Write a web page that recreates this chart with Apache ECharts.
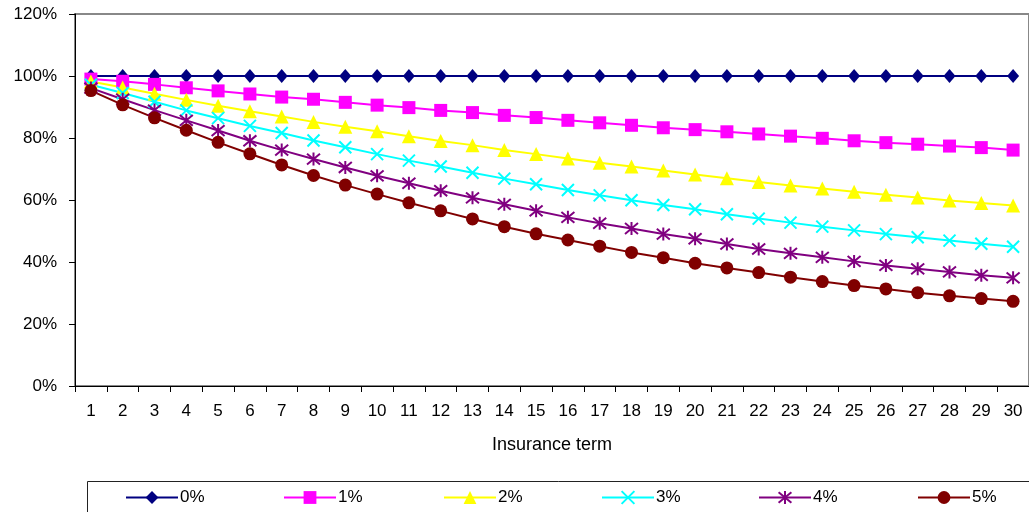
<!DOCTYPE html>
<html>
<head>
<meta charset="utf-8">
<script src="https://cdn.jsdelivr.net/npm/echarts@6/dist/echarts.min.js"></script>
<style>
  html, body { margin: 0; padding: 0; background: #fff; }
  #chart { width: 1029px; height: 512px; }
</style>
</head>
<body>
<div id="chart"></div>
<script>
// Insurance term (years)
const terms = ['1','2','3','4','5','6','7','8','9','10','11','12','13','14','15',
               '16','17','18','19','20','21','22','23','24','25','26','27','28','29','30'];

const yTicks = [0, 20, 40, 60, 80, 100, 120];

const seriesNames = ['0%', '1%', '2%', '3%', '4%', '5%'];

// Remaining value (%) per term, by rate
const rate0 = [100,100,100,100,100,100,100,100,100,100,100,100,100,100,100,
               100,100,100,100,100,100,100,100,100,100,100,100,100,100,100];
const rate1 = [99.0, 98.3, 97.3, 96.2, 95.2, 94.2, 93.2, 92.5, 91.5, 90.6,
               89.8, 88.9, 88.2, 87.3, 86.6, 85.7, 84.9, 84.1, 83.3, 82.7,
               82.0, 81.3, 80.6, 79.9, 79.1, 78.5, 78.0, 77.4, 76.9, 76.1];
const rate2 = [98.2, 96.3, 94.3, 92.3, 90.4, 88.6, 86.9, 85.2, 83.6, 82.2,
               80.6, 79.0, 77.7, 76.1, 74.8, 73.4, 72.0, 70.8, 69.5, 68.2,
               67.0, 65.8, 64.7, 63.7, 62.7, 61.7, 60.8, 59.8, 59.0, 58.2];
const rate3 = [97.2, 94.5, 91.7, 88.9, 86.4, 83.9, 81.6, 79.2, 77.0, 74.8,
               72.7, 70.8, 68.8, 66.9, 65.1, 63.2, 61.5, 59.9, 58.4, 57.0,
               55.4, 54.0, 52.7, 51.4, 50.2, 49.0, 48.0, 46.9, 45.9, 44.9];
const rate4 = [96.1, 92.5, 89.0, 85.7, 82.4, 79.1, 76.1, 73.2, 70.5, 67.8,
               65.4, 63.0, 60.7, 58.6, 56.5, 54.4, 52.5, 50.8, 49.0, 47.5,
               45.8, 44.2, 42.8, 41.5, 40.2, 38.9, 37.8, 36.8, 35.7, 34.9];
const rate5 = [95.3, 90.7, 86.5, 82.5, 78.6, 74.9, 71.3, 67.9, 64.8, 61.9,
               59.1, 56.5, 53.9, 51.4, 49.1, 47.1, 45.1, 43.1, 41.4, 39.6,
               38.1, 36.6, 35.1, 33.7, 32.4, 31.3, 30.1, 29.1, 28.2, 27.3];

const FONT = '"Liberation Sans", Arial, sans-serif';

const crossPath = 'path://M0,0L10,10M10,0L0,10';
const starPath = 'path://M0,0L10,10M10,0L0,10M5,-1L5,11';

const styles = [
  { color: '#000080', symbol: 'diamond', size: [12, 14] },
  { color: '#FF00FF', symbol: 'rect', size: 13 },
  { color: '#FFFF00', symbol: 'triangle', size: 14 },
  { color: '#00FFFF', symbol: crossPath, size: 12, stroke: true },
  { color: '#800080', symbol: starPath, size: 13, stroke: true },
  { color: '#800000', symbol: 'circle', size: 13 }
];
const values = [rate0, rate1, rate2, rate3, rate4, rate5];

const series = seriesNames.map((name, i) => {
  const s = styles[i];
  return {
    name: name,
    type: 'line',
    data: values[i],
    symbol: s.symbol,
    symbolSize: s.size,
    showAllSymbol: true,
    animation: false,
    lineStyle: { color: s.color, width: 2 },
    itemStyle: s.stroke
      ? { color: s.color, borderColor: s.color, borderWidth: 2 }
      : { color: s.color, borderWidth: 0 }
  };
});

// one legend block per series, laid out in a row
const legendLeft = [125, 283, 443, 601, 758, 917];
const legends = seriesNames.map((name, i) => ({
  data: [name],
  left: legendLeft[i],
  top: 489,
  itemWidth: 52,
  itemHeight: 16,
  itemGap: 4,
  padding: 0,
  textStyle: { fontFamily: FONT, fontSize: 17, color: '#000', padding: [0, 0, 0, -3] },
  selectedMode: false
}));

const chart = echarts.init(document.getElementById('chart'), null, { renderer: 'canvas' });
chart.setOption({
  backgroundColor: '#fff',
  animation: false,
  grid: {
    left: 75, top: 14, width: 958, bottom: 126,
    show: true, borderColor: '#888', borderWidth: 2, backgroundColor: 'transparent'
  },
  legend: legends,
  xAxis: {
    type: 'category',
    data: terms,
    boundaryGap: true,
    name: 'Insurance term',
    nameLocation: 'middle',
    nameGap: 50,
    nameTextStyle: { fontFamily: FONT, fontSize: 18, color: '#000' },
    axisLine: { lineStyle: { color: '#000', width: 1 } },
    axisTick: { show: true, length: 6, inside: false, lineStyle: { color: '#000' } },
    axisLabel: { fontFamily: FONT, fontSize: 17, color: '#000', margin: 17, interval: 0 },
    splitLine: { show: false }
  },
  yAxis: {
    type: 'value',
    min: yTicks[0],
    max: yTicks[yTicks.length - 1],
    interval: yTicks[1] - yTicks[0],
    axisLine: { show: true, lineStyle: { color: '#000', width: 1 } },
    axisTick: { show: true, length: 6, inside: false, lineStyle: { color: '#000' } },
    axisLabel: { fontFamily: FONT, fontSize: 17, color: '#000', margin: 18, formatter: '{value}%' },
    splitLine: { show: false }
  },
  graphic: [{
    type: 'rect',
    shape: { x: 87.5, y: 481.5, width: 1000, height: 60 },
    style: { fill: 'none', stroke: '#222', lineWidth: 1 },
    z: 0
  }],
  series: series
});
</script>
</body>
</html>
